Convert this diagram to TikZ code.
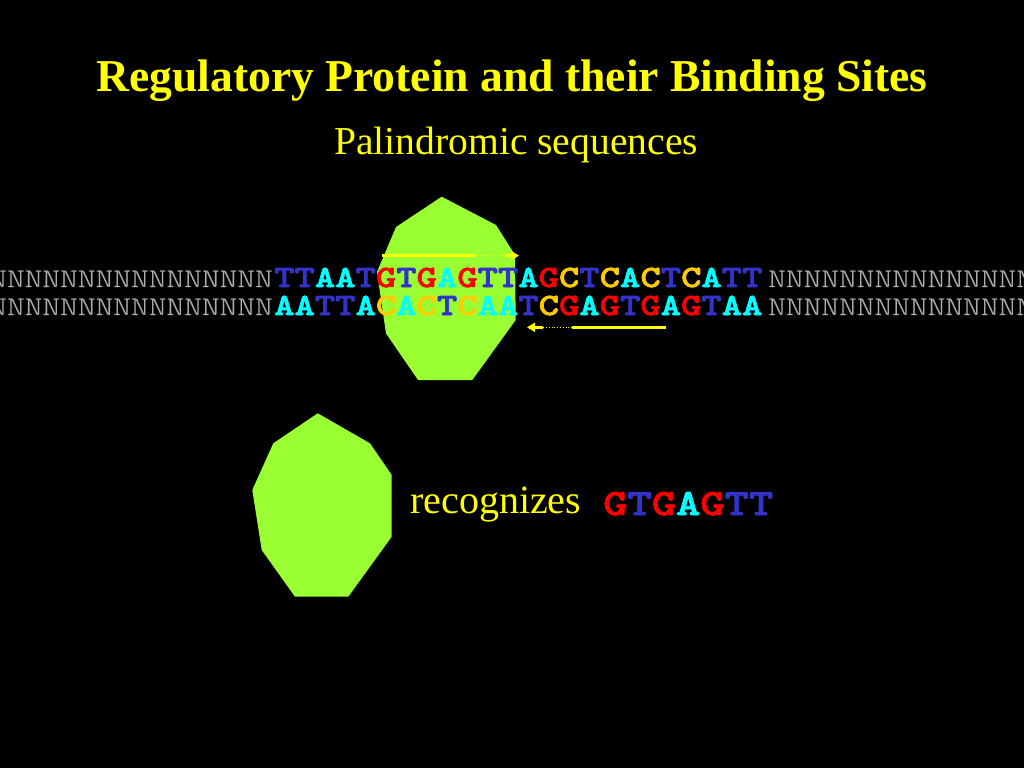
\documentclass[tikz,border=0pt]{standalone}
\usepackage{fontspec}
\usetikzlibrary{arrows.meta}
\setmainfont{Liberation Serif}
\newfontfamily\seqfont{lmmonolt10-bold.otf}[FakeStretch=1.25,FakeBold=2.2]
\newfontfamily\nfont{lmmonolt10-regular.otf}[FakeStretch=1.25,FakeBold=0.4]
\definecolor{cT}{RGB}{51,51,204}
\definecolor{cA}{RGB}{0,255,255}
\definecolor{cG}{RGB}{255,0,0}
\definecolor{cC}{RGB}{255,204,0}
\definecolor{cN}{RGB}{170,170,170}
\definecolor{prot}{RGB}{153,255,51}
\definecolor{ttl}{RGB}{255,255,0}
\newcommand\QT{{\color{cT}T}}
\newcommand\QA{{\color{cA}A}}
\newcommand\QG{{\color{cG}G}}
\newcommand\QC{{\color{cC}C}}
\begin{document}
\begin{tikzpicture}[x=1pt,y=-1pt,
  ttltext/.style={text=ttl, inner sep=0, anchor=base},
  seq/.style={inner sep=0, font=\seqfont\fontsize{31}{31}\selectfont, anchor=base west},
  nleft/.style={inner sep=0, text=cN, font=\nfont\fontsize{27}{27}\selectfont, anchor=base east},
  nright/.style={inner sep=0, text=cN, font=\nfont\fontsize{27}{27}\selectfont, anchor=base west},
  protein/.style={fill=prot},
  sitebar/.style={draw=ttl, line width=3.3pt},
  sitedots/.style={draw=ttl, line width=0.8pt, dotted},
  sitehead/.style={draw=ttl, line width=3.3pt, -{Triangle[length=8pt,width=9pt]}}
]
\useasboundingbox (0,0) rectangle (1024,768);
\clip (0,0) rectangle (1024,768);
\fill[black] (0,0) rectangle (1024,768);

% titles
\node[ttltext, font=\bfseries\fontsize{45.6}{46}\selectfont] (title) at (512,91) {Regulatory Protein and their Binding Sites};
\node[ttltext, font=\fontsize{39.6}{40}\selectfont] (sub) at (516,154) {Palindromic sequences};

% bound protein
\path[protein] (441.7,196.7) -- (496,225) -- (515,255) -- (515.7,320) -- (472.3,380)
  -- (418,380) -- (386,333.4) -- (377,272) -- (396,227) -- cycle;

% DNA
\node[seq] (top) at (274,287) {\QT\QT\QA\QA\QT\QG\QT\QG\QA\QG\QT\QT\QA\QG\QC\QT\QC\QA\QC\QT\QC\QA\QT\QT};
\node[seq] (bot) at (274,315) {\QA\QA\QT\QT\QA\QC\QA\QC\QT\QC\QA\QA\QT\QC\QG\QA\QG\QT\QG\QA\QG\QT\QA\QA};
\node[nleft] (ntl) at (273,287) {NNNNNNNNNNNNNNNN};
\node[nleft] (nbl) at (273,315) {NNNNNNNNNNNNNNNN};
\node[nright] (ntr) at (768,287) {NNNNNNNNNNNNNNN};
\node[nright] (nbr) at (768,315) {NNNNNNNNNNNNNNN};

% half-site arrows
\coordinate (a1) at (382,255.7);
\coordinate (a2) at (475,255.7);
\coordinate (a3) at (505,255.7);
\coordinate (a4) at (519,255.7);
\draw[sitebar] (a1) -- (a2);
\draw[sitedots] (a2) -- (a3);
\draw[sitehead] (a3) -- (a4);
\coordinate (b1) at (666,327.3);
\coordinate (b2) at (572,327.3);
\coordinate (b3) at (543,327.3);
\coordinate (b4) at (527,327.3);
\draw[sitebar] (b1) -- (b2);
\draw[sitedots] (b2) -- (b3);
\draw[sitehead] (b3) -- (b4);

% free protein
\path[protein] (317.7,413.3) -- (370,443.3) -- (391.7,475) -- (391.7,536.7) -- (348.3,596.7)
  -- (295,596.7) -- (261.7,550) -- (252.3,490) -- (273.3,443.3) -- cycle;
\node[ttltext, font=\fontsize{40}{40}\selectfont, anchor=base west] (rec) at (410,513) {recognizes};
\node[seq, font=\seqfont\fontsize{37}{37}\selectfont] (motif) at (603,515) {\QG\QT\QG\QA\QG\QT\QT};
\end{tikzpicture}
\end{document}
